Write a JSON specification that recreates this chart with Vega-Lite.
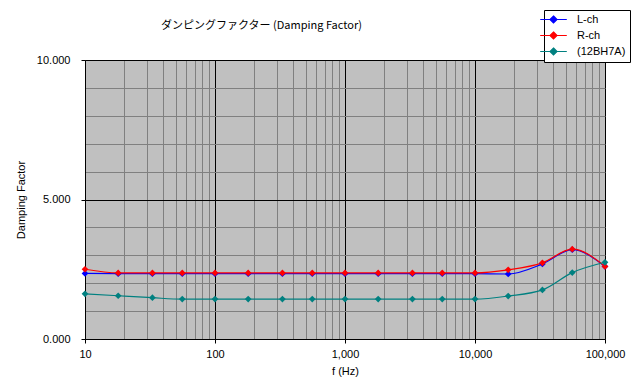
{
  "$schema": "https://vega.github.io/schema/vega-lite/v6.json",
  "width": 520,
  "height": 279,
  "autosize": {"type": "none"},
  "padding": {"left": 85, "top": 60, "right": 32, "bottom": 46},
  "background": "white",
  "title": {
    "text": "ダンピングファクター (Damping Factor)",
    "anchor": "start",
    "frame": "group",
    "dx": 76,
    "offset": -21,
    "font": "Noto Sans CJK JP",
    "fontSize": 11,
    "fontWeight": "normal",
    "color": "black"
  },
  "config": {
    "view": {"fill": "#C0C0C0", "stroke": null},
    "font": "Liberation Sans",
    "axis": {
      "domainColor": "black",
      "domainWidth": 1,
      "labelFont": "Liberation Sans",
      "labelFontSize": 11,
      "labelColor": "black",
      "titleFont": "Liberation Sans",
      "titleFontSize": 11,
      "titleFontWeight": "normal",
      "titleColor": "black",
      "tickSize": 4,
      "gridWidth": 1,
      "gridOpacity": 1
    }
  },
  "data": {
    "values": [
      {"f": 10, "s": "L-ch", "v": 2.35},
      {"f": 18, "s": "L-ch", "v": 2.34},
      {"f": 33, "s": "L-ch", "v": 2.34},
      {"f": 56, "s": "L-ch", "v": 2.34},
      {"f": 100, "s": "L-ch", "v": 2.34},
      {"f": 180, "s": "L-ch", "v": 2.34},
      {"f": 330, "s": "L-ch", "v": 2.34},
      {"f": 560, "s": "L-ch", "v": 2.34},
      {"f": 1000, "s": "L-ch", "v": 2.34},
      {"f": 1800, "s": "L-ch", "v": 2.34},
      {"f": 3300, "s": "L-ch", "v": 2.34},
      {"f": 5600, "s": "L-ch", "v": 2.34},
      {"f": 10000, "s": "L-ch", "v": 2.34},
      {"f": 18000, "s": "L-ch", "v": 2.33},
      {"f": 33000, "s": "L-ch", "v": 2.69},
      {"f": 56000, "s": "L-ch", "v": 3.2},
      {"f": 100000, "s": "L-ch", "v": 2.6},
      {"f": 10, "s": "R-ch", "v": 2.5},
      {"f": 18, "s": "R-ch", "v": 2.37},
      {"f": 33, "s": "R-ch", "v": 2.37},
      {"f": 56, "s": "R-ch", "v": 2.37},
      {"f": 100, "s": "R-ch", "v": 2.37},
      {"f": 180, "s": "R-ch", "v": 2.37},
      {"f": 330, "s": "R-ch", "v": 2.37},
      {"f": 560, "s": "R-ch", "v": 2.37},
      {"f": 1000, "s": "R-ch", "v": 2.37},
      {"f": 1800, "s": "R-ch", "v": 2.37},
      {"f": 3300, "s": "R-ch", "v": 2.37},
      {"f": 5600, "s": "R-ch", "v": 2.37},
      {"f": 10000, "s": "R-ch", "v": 2.37},
      {"f": 18000, "s": "R-ch", "v": 2.48},
      {"f": 33000, "s": "R-ch", "v": 2.73},
      {"f": 56000, "s": "R-ch", "v": 3.22},
      {"f": 100000, "s": "R-ch", "v": 2.6},
      {"f": 10, "s": "(12BH7A)", "v": 1.62},
      {"f": 18, "s": "(12BH7A)", "v": 1.55},
      {"f": 33, "s": "(12BH7A)", "v": 1.48},
      {"f": 56, "s": "(12BH7A)", "v": 1.43},
      {"f": 100, "s": "(12BH7A)", "v": 1.43},
      {"f": 180, "s": "(12BH7A)", "v": 1.43},
      {"f": 330, "s": "(12BH7A)", "v": 1.43},
      {"f": 560, "s": "(12BH7A)", "v": 1.43},
      {"f": 1000, "s": "(12BH7A)", "v": 1.43},
      {"f": 1800, "s": "(12BH7A)", "v": 1.43},
      {"f": 3300, "s": "(12BH7A)", "v": 1.43},
      {"f": 5600, "s": "(12BH7A)", "v": 1.43},
      {"f": 10000, "s": "(12BH7A)", "v": 1.43},
      {"f": 18000, "s": "(12BH7A)", "v": 1.54},
      {"f": 33000, "s": "(12BH7A)", "v": 1.76},
      {"f": 56000, "s": "(12BH7A)", "v": 2.38},
      {"f": 100000, "s": "(12BH7A)", "v": 2.75}
    ]
  },
  "encoding": {
    "x": {
      "field": "f",
      "type": "quantitative",
      "scale": {"type": "log", "domain": [10, 100000], "nice": false},
      "axis": {
        "title": "f (Hz)",
        "titlePadding": 6,
        "values": [10, 20, 30, 40, 50, 60, 70, 80, 90, 100, 200, 300, 400, 500, 600, 700, 800, 900, 1000, 2000, 3000, 4000, 5000, 6000, 7000, 8000, 9000, 10000, 20000, 30000, 40000, 50000, 60000, 70000, 80000, 90000, 100000],
        "labelExpr": "indexof([10,100,1000,10000,100000], datum.value) >= 0 ? format(datum.value, ',') : ''",
        "labelOverlap": false,
        "labelPadding": 5,
        "labelFlush": false,
        "grid": true,
        "gridColor": {"condition": {"test": "indexof([10,100,1000,10000,100000], datum.value) >= 0", "value": "black"}, "value": "#808080"},
        "tickColor": {"condition": {"test": "indexof([10,100,1000,10000,100000], datum.value) >= 0", "value": "black"}, "value": "transparent"}
      }
    },
    "y": {
      "field": "v",
      "type": "quantitative",
      "scale": {"domain": [0, 10], "nice": false, "zero": true},
      "axis": {
        "title": "Damping Factor",
        "titlePadding": 10,
        "values": [0, 1, 2, 3, 4, 5, 6, 7, 8, 9, 10],
        "labelExpr": "datum.value % 5 == 0 ? format(datum.value, '.3f') : ''",
        "labelOverlap": false,
        "labelPadding": 11,
        "labelFlush": false,
        "grid": true,
        "gridColor": {"condition": {"test": "datum.value % 5 == 0", "value": "black"}, "value": "#808080"},
        "tickColor": {"condition": {"test": "datum.value % 5 == 0", "value": "black"}, "value": "transparent"}
      }
    },
    "color": {
      "field": "s",
      "type": "nominal",
      "sort": ["L-ch", "R-ch", "(12BH7A)"],
      "scale": {"domain": ["L-ch", "R-ch", "(12BH7A)"], "range": ["#0000FF", "#FF0000", "#008080"]},
      "legend": {
        "title": null,
        "orient": "none",
        "legendX": 459,
        "legendY": -50,
        "strokeColor": "black",
        "fillColor": "white",
        "padding": 4,
        "cornerRadius": 0,
        "rowPadding": 3,
        "labelFont": "Liberation Sans",
        "labelFontSize": 11,
        "labelColor": "black",
        "labelOffset": 18,
        "symbolType": "M-3.8,0H3.8M0,-1L1,0L0,1L-1,0Z",
        "symbolSize": 49,
        "symbolStrokeWidth": 1.2,
        "encode": {
          "symbols": {
            "update": {
              "fill": {"scale": "color", "field": "value"},
              "stroke": {"scale": "color", "field": "value"},
              "opacity": {"value": 1}
            }
          }
        }
      }
    }
  },
  "layer": [
    {
      "mark": {"type": "line", "interpolate": "monotone", "strokeWidth": 1.2}
    },
    {
      "mark": {"type": "point", "shape": "diamond", "filled": true, "size": 45, "opacity": 1}
    }
  ]
}
